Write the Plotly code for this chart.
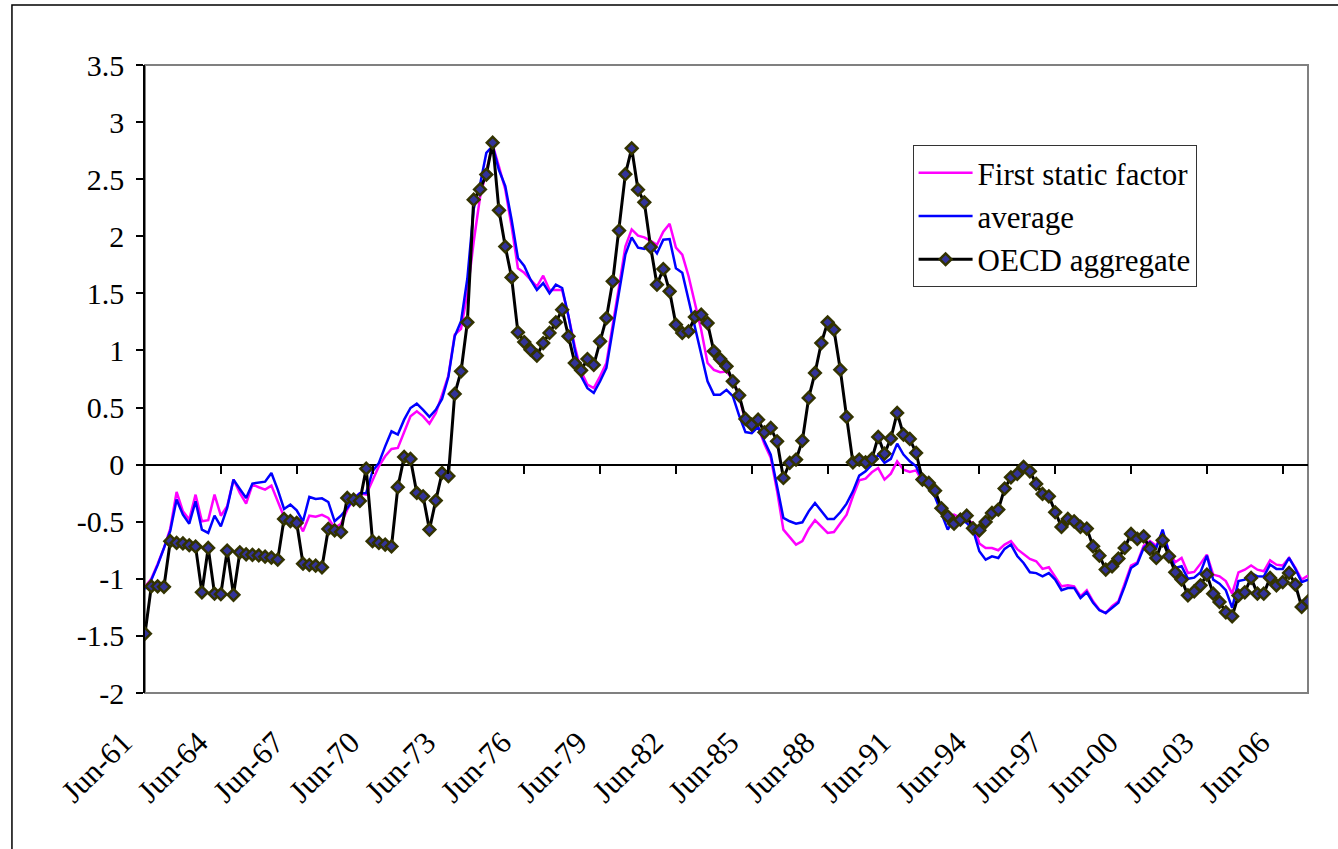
import plotly.graph_objects as go

# Quarterly categories Jun-61 .. Jun-07
MONTHS = ["Mar", "Jun", "Sep", "Dec"]
quarters = [f"{m}-{y % 100:02d}" for y in range(1961, 2008) for m in MONTHS]
quarters = quarters[quarters.index("Jun-61"):quarters.index("Jun-07") + 1]

TICK_LABELS = ["Jun-61", "Jun-64", "Jun-67", "Jun-70", "Jun-73", "Jun-76", "Jun-79", "Jun-82",
               "Jun-85", "Jun-88", "Jun-91", "Jun-94", "Jun-97", "Jun-00", "Jun-03", "Jun-06"]
Y_TICKS = [-2, -1.5, -1, -0.5, 0, 0.5, 1, 1.5, 2, 2.5, 3, 3.5]
Y_TICK_TEXT = ["-2", "-1.5", "-1", "-0.5", "0", "0.5", "1", "1.5", "2", "2.5", "3", "3.5"]

first_static_factor = [
    -1.07, -1.0, -0.87, -0.73, -0.56, -0.239, -0.409, -0.48, -0.263, -0.496,
    -0.487, -0.263, -0.447, -0.365, -0.131, -0.248, -0.342, -0.175, -0.198, -0.219,
    -0.184, -0.321, -0.458, -0.467, -0.48, -0.584, -0.447, -0.456, -0.44, -0.467,
    -0.555, -0.517, -0.394, -0.30, -0.25, -0.263, -0.131, -0.015, 0.073, 0.137,
    0.146, 0.277, 0.423, 0.467, 0.423, 0.359, 0.45, 0.61, 0.78, 1.138,
    1.19, 1.5, 1.95, 2.34, 2.58, 2.8, 2.61, 2.41, 2.087, 1.72,
    1.68, 1.62, 1.56, 1.655, 1.53, 1.53, 1.53, 1.30, 1.036, 0.817,
    0.70, 0.67, 0.773, 0.89, 1.21, 1.56, 1.91, 2.06, 2.005, 1.99,
    1.96, 1.926, 2.04, 2.11, 1.90, 1.84, 1.65, 1.40, 1.18, 0.89,
    0.83, 0.81, 0.815, 0.745, 0.60, 0.38, 0.30, 0.33, 0.18, 0.06,
    -0.23, -0.569, -0.633, -0.70, -0.67, -0.563, -0.487, -0.54, -0.598, -0.59,
    -0.517, -0.438, -0.277, -0.137, -0.123, -0.067, -0.03, -0.131, -0.079, 0.029,
    -0.044, -0.064, -0.05, -0.146, -0.19, -0.277, -0.38, -0.452, -0.438, -0.467,
    -0.487, -0.511, -0.69, -0.73, -0.73, -0.75, -0.70, -0.67, -0.74, -0.78,
    -0.826, -0.846, -0.913, -0.899, -0.978, -1.066, -1.057, -1.066, -1.153, -1.10,
    -1.197, -1.27, -1.3, -1.24, -1.197, -1.036, -0.884, -0.855, -0.71, -0.67,
    -0.71, -0.584, -0.759, -0.855, -0.817, -0.949, -0.94, -0.867, -0.788, -0.963,
    -0.978, -1.02, -1.13, -0.943, -0.92, -0.884, -0.92, -0.934, -0.838, -0.876,
    -0.884, -0.817, -0.905, -1.007, -0.972,
]

average = [
    -1.09, -1.01, -0.88, -0.73, -0.58, -0.306, -0.438, -0.517, -0.321, -0.569,
    -0.598, -0.447, -0.54, -0.38, -0.131, -0.213, -0.292, -0.166, -0.155, -0.149,
    -0.073, -0.219, -0.388, -0.35, -0.40, -0.496, -0.283, -0.30, -0.295, -0.327,
    -0.496, -0.447, -0.38, -0.30, -0.25, -0.248, -0.058, 0.015, 0.16, 0.292,
    0.263, 0.394, 0.496, 0.534, 0.48, 0.418, 0.48, 0.575, 0.77, 1.124,
    1.255, 1.63, 2.24, 2.45, 2.73, 2.79, 2.58, 2.44, 2.145, 1.81,
    1.74, 1.62, 1.53, 1.59, 1.50, 1.576, 1.547, 1.30, 1.007, 0.773,
    0.67, 0.628, 0.73, 0.847, 1.18, 1.50, 1.84, 1.99, 1.90, 1.89,
    1.926, 1.85, 1.97, 1.976, 1.72, 1.68, 1.445, 1.21, 0.948, 0.73,
    0.613, 0.613, 0.655, 0.60, 0.43, 0.285, 0.275, 0.33, 0.204, 0.088,
    -0.19, -0.467, -0.496, -0.517, -0.505, -0.409, -0.336, -0.409, -0.476, -0.476,
    -0.417, -0.342, -0.234, -0.096, -0.058, 0.0, 0.088, 0.015, 0.05, 0.184,
    0.088, 0.029, -0.015, -0.131, -0.213, -0.283, -0.423, -0.569, -0.476, -0.48,
    -0.511, -0.569, -0.759, -0.832, -0.803, -0.818, -0.738, -0.70, -0.80, -0.861,
    -0.943, -0.95, -0.978, -0.95, -1.007, -1.10, -1.08, -1.08, -1.168, -1.118,
    -1.21, -1.276, -1.3, -1.255, -1.21, -1.066, -0.905, -0.867, -0.73, -0.68,
    -0.73, -0.569, -0.773, -0.905, -0.89, -1.0, -0.99, -0.943, -0.797, -1.007,
    -1.042, -1.10, -1.255, -1.02, -1.007, -0.949, -0.978, -0.98, -0.876, -0.913,
    -0.913, -0.817, -0.913, -1.03, -1.007,
]

oecd_aggregate = [
    -1.48, -1.066, -1.066, -1.07, -0.67, -0.686, -0.69, -0.706, -0.718, -1.118,
    -0.73, -1.13, -1.135, -0.753, -1.14, -0.768, -0.785, -0.79, -0.795, -0.806,
    -0.815, -0.832, -0.476, -0.494, -0.511, -0.867, -0.879, -0.885, -0.899, -0.563,
    -0.575, -0.59, -0.292, -0.306, -0.318, -0.035, -0.67, -0.686, -0.70, -0.716,
    -0.198, 0.067, 0.05, -0.248, -0.277, -0.569, -0.315, -0.073, -0.10, 0.619,
    0.817, 1.246, 2.32, 2.41, 2.54, 2.82, 2.227, 1.91, 1.64, 1.159,
    1.074, 1.007, 0.954, 1.065, 1.153, 1.246, 1.357, 1.124, 0.89, 0.826,
    0.925, 0.873, 1.08, 1.284, 1.605, 2.05, 2.544, 2.77, 2.408, 2.297,
    1.906, 1.576, 1.713, 1.518, 1.226, 1.153, 1.167, 1.293, 1.313, 1.24,
    0.992, 0.925, 0.861, 0.73, 0.607, 0.40, 0.35, 0.394, 0.283, 0.321,
    0.204, -0.117, 0.015, 0.044, 0.21, 0.584, 0.803, 1.065, 1.246, 1.182,
    0.832, 0.418, 0.02, 0.044, 0.02, 0.05, 0.243, 0.096, 0.228, 0.453,
    0.263, 0.225, 0.102, -0.131, -0.16, -0.228, -0.382, -0.452, -0.517, -0.482,
    -0.447, -0.558, -0.575, -0.502, -0.423, -0.394, -0.21, -0.111, -0.08, -0.02,
    -0.058, -0.169, -0.257, -0.277, -0.417, -0.546, -0.476, -0.496, -0.546, -0.56,
    -0.715, -0.797, -0.919, -0.89, -0.823, -0.73, -0.607, -0.651, -0.628, -0.738,
    -0.817, -0.663, -0.803, -0.943, -1.007, -1.144, -1.11, -1.057, -0.963, -1.13,
    -1.202, -1.293, -1.328, -1.147, -1.118, -0.992, -1.13, -1.13, -0.992, -1.057,
    -1.03, -0.949, -1.05, -1.246, -1.197,
]

FONT = "Liberation Serif"
Y_MIN, Y_MAX = -2, 3.5
X_RANGE = [0, len(quarters) - 1]

fig = go.Figure()
fig.add_trace(go.Scatter(
    x=quarters, y=first_static_factor, name="First static factor", mode="lines",
    line=dict(color="#FF00FF", width=2.5), legendgroup="g1"))
fig.add_trace(go.Scatter(
    x=quarters, y=average, name="average", mode="lines",
    line=dict(color="#0000FF", width=2.5), legendgroup="g2"))
fig.add_trace(go.Scatter(
    x=quarters, y=oecd_aggregate, name="OECD aggregate", mode="lines+markers",
    line=dict(color="#000000", width=3),
    marker=dict(symbol="diamond", size=9, color="#333399",
                line=dict(color="#333300", width=2.5)),
    legendgroup="g3"))
# invisible carrier trace so the tick-mark axis on the zero line shares categories
fig.add_trace(go.Scatter(
    x=quarters, y=oecd_aggregate, mode="markers", opacity=0, showlegend=False,
    hoverinfo="skip", xaxis="x2", yaxis="y"))

fig.update_layout(
    width=1338, height=849,
    margin=dict(l=145, r=30, t=65, b=156),
    paper_bgcolor="white", plot_bgcolor="white",
    font=dict(family=FONT, size=29, color="black"),
    showlegend=True,
    legend=dict(x=0.660, y=0.8726, xanchor="left", yanchor="top",
                bgcolor="white", bordercolor="#333333", borderwidth=1,
                font=dict(family=FONT, size=31, color="black"),
                tracegroupgap=0, itemwidth=54),
    xaxis=dict(type="category", range=X_RANGE, tickvals=TICK_LABELS, ticktext=TICK_LABELS,
               tickangle=-45, ticks="", showline=False, showgrid=False, zeroline=False,
               tickfont=dict(family=FONT, size=31, color="black"),
               ticklabelstandoff=24, ticklabelshift=-22),
    xaxis2=dict(type="category", range=X_RANGE, overlaying="x", anchor="free",
                position=(0 - Y_MIN) / (Y_MAX - Y_MIN), side="bottom",
                tickvals=TICK_LABELS[1:], ticks="outside", ticklen=8, tickwidth=1.5,
                tickcolor="black", showticklabels=False, showline=False,
                showgrid=False, zeroline=False),
    yaxis=dict(range=[Y_MIN, Y_MAX], tickvals=Y_TICKS, ticktext=Y_TICK_TEXT,
               ticks="outside", ticklen=7, tickwidth=1.5, tickcolor="black",
               showline=True, linecolor="black", linewidth=1.5,
               showgrid=False, zeroline=True, zerolinecolor="black", zerolinewidth=1.5,
               tickfont=dict(family=FONT, size=30, color="black"), ticklabelstandoff=6),
    shapes=[
        dict(type="rect", xref="paper", yref="paper", x0=0, x1=1, y0=0, y1=1,
             line=dict(color="#808080", width=2), layer="below"),
        dict(type="rect", xref="paper", yref="paper", x0=-0.1144, x1=1.2, y0=-0.5, y1=1.0955,
             line=dict(color="black", width=1.5), layer="below"),
    ],
)

fig.write_html("out.html", config={"displayModeBar": False},
               post_script="document.body.style.margin='0px';")
